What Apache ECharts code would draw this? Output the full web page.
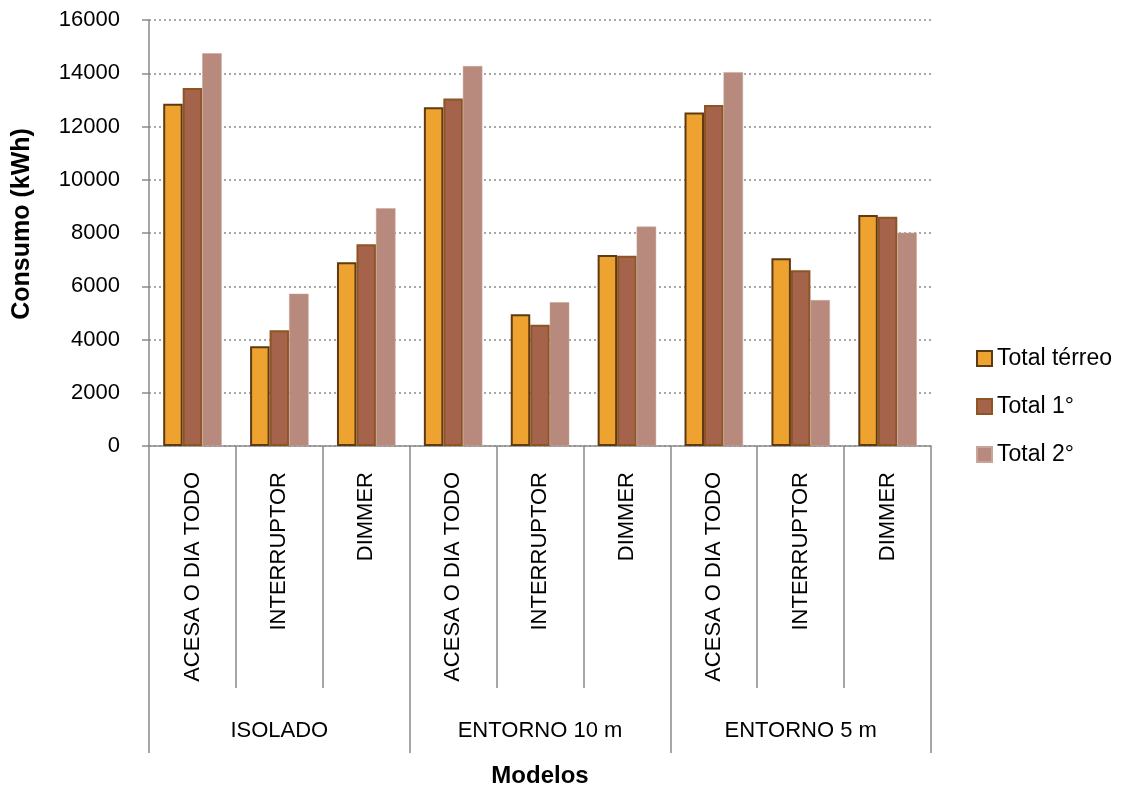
<!DOCTYPE html>
<html>
<head>
<meta charset="utf-8">
<script src="https://cdn.jsdelivr.net/npm/echarts@6/dist/echarts.min.js"></script>
<style>
html,body{margin:0;padding:0;background:#fff;}
#chart{width:1130px;height:787px;}
</style>
</head>
<body>
<div id="chart"></div>
<script>
const categories = ['ACESA O DIA TODO','INTERRUPTOR','DIMMER','ACESA O DIA TODO','INTERRUPTOR','DIMMER','ACESA O DIA TODO','INTERRUPTOR','DIMMER'];
const groups = ['ISOLADO','ENTORNO 10 m','ENTORNO 5 m'];
const seriesNames = ['Total térreo','Total 1°','Total 2°'];
const totalTerreo = [12850,3750,6900,12720,4950,7170,12530,7050,8680];
const total1 = [13450,4350,7580,13050,4550,7150,12810,6600,8610];
const total2 = [14750,5720,8930,14270,5400,8240,14040,5480,8010];
const yMin = 0, yMax = 16000, yStep = 2000;

const FONT = 'Liberation Sans';
const FS = 22;
const axisGray = '#8a8a8a';

const chart = echarts.init(document.getElementById('chart'), null, {renderer:'canvas'});
chart.setOption({
  animation:false,
  backgroundColor:'#ffffff',
  textStyle:{fontFamily:FONT},
  grid:{left:149, right:199, top:20, bottom:341, containLabel:false, outerBoundsMode:'none'},
  legend:{
    orient:'vertical', left:971, top:342,
    itemWidth:15, itemHeight:15, itemGap:25,
    icon:'rect',
    textStyle:{fontFamily:FONT, fontSize:23, color:'#000'},
    data:seriesNames
  },
  xAxis:[{
    type:'category', data:categories, position:'bottom',
    axisLine:{show:true, lineStyle:{color:axisGray, width:1.5}},
    axisTick:{show:true, length:242, interval:0, lineStyle:{color:axisGray, width:1.5}},
    axisLabel:{rotate:90, interval:0, margin:26, fontFamily:FONT, fontSize:FS, color:'#000'},
    splitLine:{show:false}
  },{
    type:'category', data:groups, position:'bottom',
    axisLine:{show:false},
    axisTick:{show:true, length:307, interval:0, lineStyle:{color:axisGray, width:1.5}},
    axisLabel:{interval:0, margin:274, fontFamily:FONT, fontSize:FS, color:'#000'},
    name:'Modelos', nameLocation:'middle', nameGap:318,
    nameTextStyle:{fontFamily:FONT, fontSize:24, fontWeight:'bold', color:'#000'},
    splitLine:{show:false}
  }],
  yAxis:{
    type:'value', min:yMin, max:yMax, interval:yStep,
    name:'Consumo (kWh)', nameLocation:'middle', nameGap:114, nameRotate:90,
    nameTextStyle:{fontFamily:FONT, fontSize:25, fontWeight:'bold', color:'#000', padding:[0,0,0,18]},
    axisLine:{show:true, lineStyle:{color:axisGray, width:1.5}},
    axisTick:{show:true, length:7, lineStyle:{color:axisGray, width:1.5}},
    axisLabel:{margin:29, fontFamily:FONT, fontSize:FS, color:'#000', formatter:function(v){return String(v);}},
    splitLine:{show:true, lineStyle:{color:'#8c8c8c', type:[2,3], width:1.5}}
  },
  series:[
    {name:seriesNames[0], type:'bar', data:totalTerreo, barWidth:19.5, barGap:'0%',
     itemStyle:{color:'#EEA22F', borderColor:'#5E3A14', borderWidth:2}},
    {name:seriesNames[1], type:'bar', data:total1, barWidth:19.5, barGap:'0%',
     itemStyle:{color:'#A5634B', borderColor:'#8C5522', borderWidth:2}},
    {name:seriesNames[2], type:'bar', data:total2, barWidth:19.5, barGap:'0%',
     itemStyle:{color:'#B78A7D', borderColor:'#C9A49A', borderWidth:0.5}}
  ]
});
</script>
</body>
</html>
